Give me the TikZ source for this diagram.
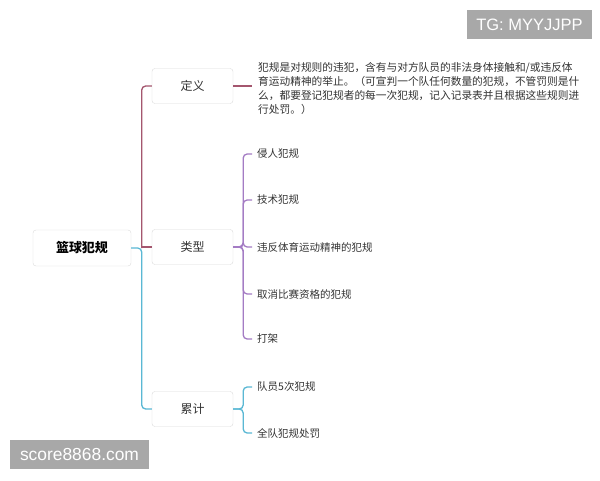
\documentclass[tikz,border=0pt]{standalone}
\usepackage{fontspec}
\setmainfont{Liberation Sans}
\newfontfamily\cjk{Noto Sans CJK SC}
\begin{document}
\begin{tikzpicture}[x=1pt,y=-1pt,
  box/.style={draw=black!14, fill=white, rounded corners=3pt, minimum width=81pt, minimum height=35pt, inner sep=0pt, text=black!80, font=\cjk\fontsize{12}{14}\selectfont},
  rootbox/.style={box, minimum width=98pt, minimum height=36pt, text=black, font=\cjk\bfseries\fontsize{13}{15}\selectfont},
  leaf/.style={anchor=west, inner xsep=5pt, inner ysep=1pt, text=black!80, font=\cjk\fontsize{10.5}{14}\selectfont},
  wm/.style={fill=black!34, text=white, inner sep=0pt, font=\fontsize{16.5}{18}\selectfont},
  lmaroon/.style={draw=maroonc, line width=1.3pt, rounded corners=4pt},
  lpurple/.style={draw=purplec, line width=1.3pt, rounded corners=4pt},
  lcyan/.style={draw=cyanc, line width=1.3pt, rounded corners=4pt}
]
\definecolor{maroonc}{HTML}{A4566E}
\definecolor{purplec}{HTML}{A47CC4}
\definecolor{cyanc}{HTML}{5AB8D4}
\useasboundingbox (0,0) rectangle (600,480);
\fill[white] (0,0) rectangle (600,480);

% nodes
\node[rootbox] (root) at (82,248) {篮球犯规};
\node[box] (def) at (192.5,86) {定义};
\node[box] (typ) at (192.5,247) {类型};
\node[box] (acc) at (192.5,409) {累计};

\node[leaf, anchor=west, align=left, inner xsep=6pt, font=\cjk\fontsize{10.7}{14}\selectfont] (deftext) at (252,88)
  {犯规是对规则的违犯，含有与对方队员的非法身体接触和/或违反体\\
   育运动精神的举止。（可宣判一个队任何数量的犯规，不管罚则是什\\
   么，都要登记犯规者的每一次犯规，记入记录表并且根据这些规则进\\
   行处罚。）};

\node[leaf] (t1) at (252,154) {侵人犯规};
\node[leaf] (t2) at (252,200) {技术犯规};
\node[leaf] (t3) at (252,247) {违反体育运动精神的犯规};
\node[leaf] (t4) at (252,294) {取消比赛资格的犯规};
\node[leaf] (t5) at (252,339) {打架};

\node[leaf] (a1) at (252,387) {队员5次犯规};
\node[leaf] (a2) at (252,433) {全队犯规处罚};

% connectors from root
\draw[lcyan] (root.east) -- ++(10.5,0) |- (acc.west);
\draw[lmaroon] (root.east) ++(10.5,0) |- (def.west);
\draw[lmaroon] (root.east) ++(10.5,-1) -- (typ.west);

% definition
\draw[lmaroon] (def.east) -- (deftext.west |- def.east);

% types
\foreach \n in {t1,t2,t3,t4,t5}
  \draw[lpurple] (typ.east) -- ++(10,0) |- (\n.west);

% accumulation
\foreach \n in {a1,a2}
  \draw[lcyan] (acc.east) -- ++(10,0) |- (\n.west);

% watermarks
\node[wm, minimum width=125pt, minimum height=29pt] (tg) at (529.5,24.5) {TG: MYYJJPP};
\node[wm, minimum width=139pt, minimum height=29pt, font=\fontsize{17.4}{19}\selectfont] (sc) at (79.5,454.5) {score8868.com};
\end{tikzpicture}
\end{document}
